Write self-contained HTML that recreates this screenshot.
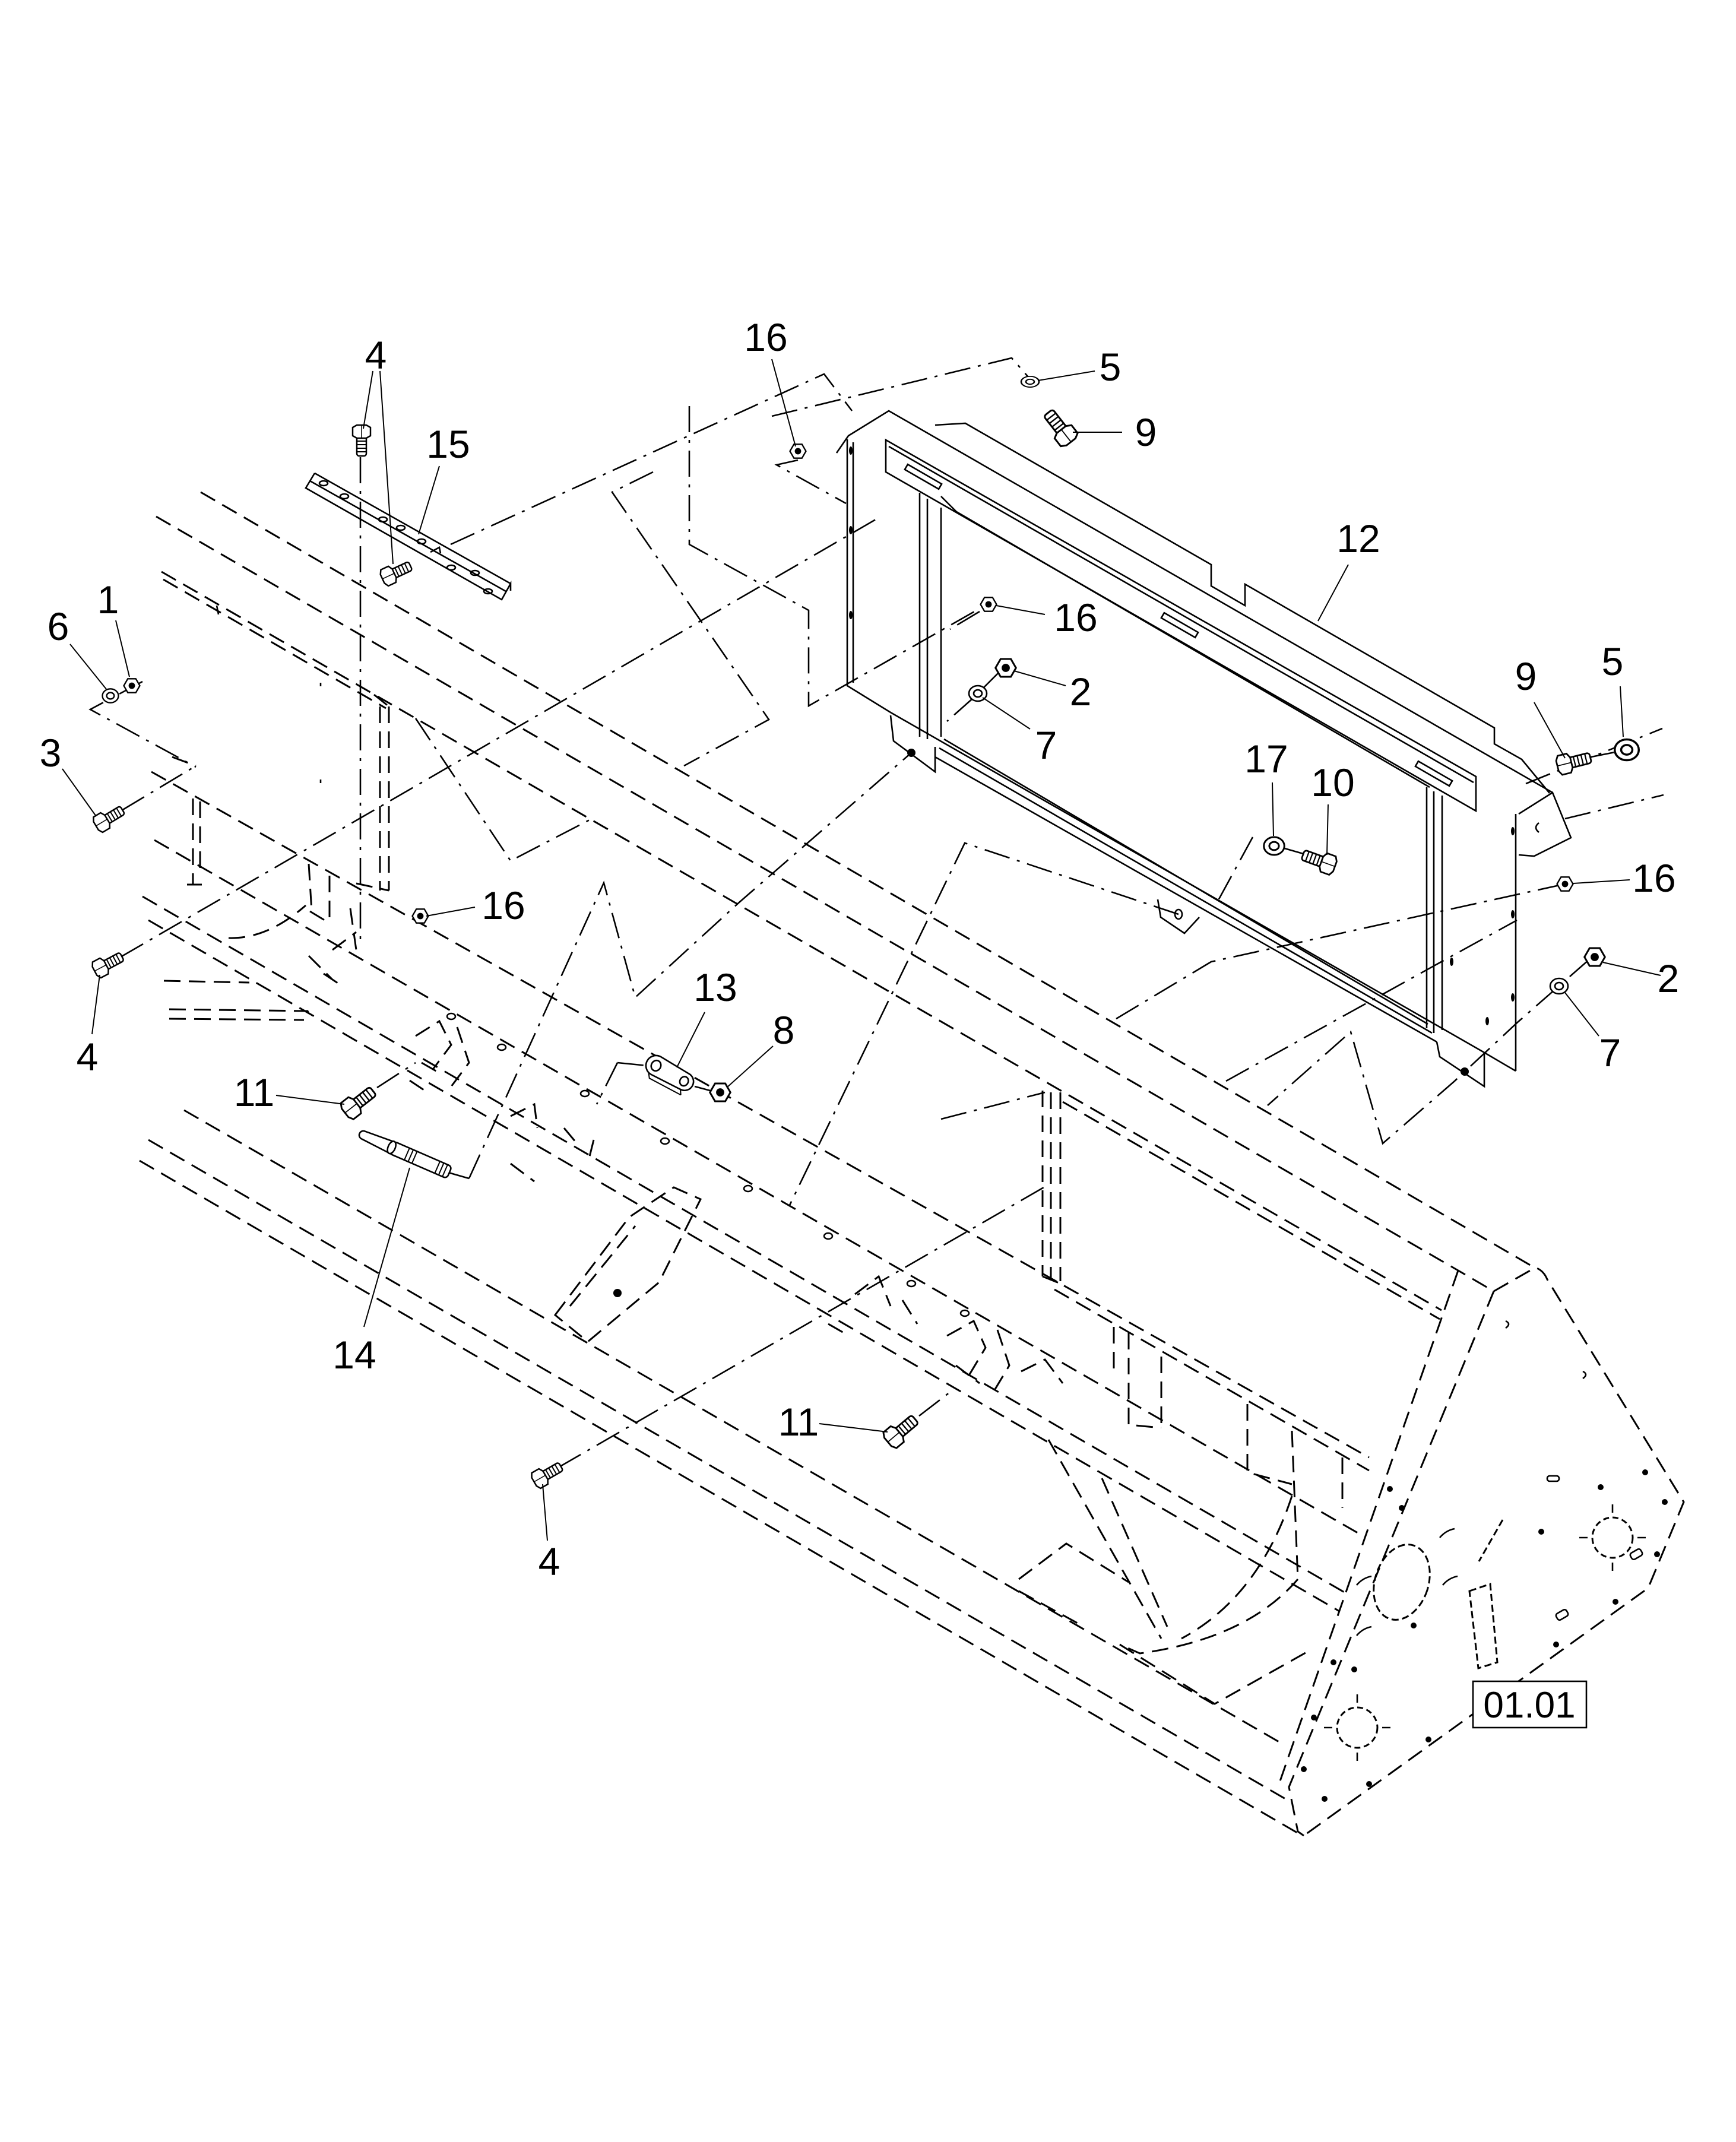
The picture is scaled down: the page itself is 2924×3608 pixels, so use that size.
<!DOCTYPE html>
<html><head><meta charset="utf-8"><style>
html,body{margin:0;padding:0;background:#fff;}
svg{display:block;}
.d{fill:none;stroke:#000;stroke-width:3;stroke-dasharray:28 14;}
.dd{fill:none;stroke:#000;stroke-width:2.6;stroke-dasharray:44 13 5 13;}
.s{fill:none;stroke:#000;stroke-width:2.6;}
.l{fill:none;stroke:#000;stroke-width:2;}
text{font-family:"Liberation Sans",Arial,sans-serif;font-size:66px;fill:#000;text-anchor:middle;}
</style></head><body>
<svg width="2924" height="3608" viewBox="0 0 2924 3608" xmlns="http://www.w3.org/2000/svg">
<defs>
<g id="nut"><polygon points="15,0 7.5,13 -7.5,13 -15,0 -7.5,-13 7.5,-13" fill="#fff" stroke="#000" stroke-width="2.6"/><circle r="6" fill="#000"/></g>
<g id="wsh"><ellipse rx="15" ry="13" fill="#fff" stroke="#000" stroke-width="2.6"/><ellipse rx="7" ry="6" fill="none" stroke="#000" stroke-width="2.6"/></g>
<g id="bolt"><rect x="4" y="-8" width="36" height="16" rx="4" fill="#fff" stroke="#000" stroke-width="2.5"/><path d="M15,-8v16M21,-8v16M27,-8v16M33,-8v16" stroke="#000" stroke-width="2"/><polygon points="-8,-15 6,-15 10,-8 10,8 6,15 -8,15 -12,8 -12,-8" fill="#fff" stroke="#000" stroke-width="2.5"/><path d="M-12,0H10" stroke="#000" stroke-width="1.5"/></g>
</defs>
<rect width="2924" height="3608" fill="#fff"/>

<!-- main frame dashed -->
<path class="d" d="M338,829 L2586,2136"/>
<path class="d" d="M263,870 L2456,2140 L2516,2175"/>
<path class="d" d="M272,963 L2428,2207"/>
<path class="d" d="M275,976 L650,1193"/>
<path class="d" d="M1790,1856 L2425,2222"/>
<path class="d" d="M255,1300 L2306,2455"/>
<path class="d" d="M1776,2172 L2306,2477"/>
<path class="d" d="M260,1415 L2299,2589"/>
<path class="d" d="M240,1510 L2266,2683"/>
<path class="d" d="M250,1550 L2256,2714"/>
<path class="d" d="M310,1870 L2156,2935"/>
<path class="d" d="M250,1920 L2165,3030"/>
<path class="d" d="M235,1955 L2190,3090"/>
<path class="d" d="M276,1652 L420,1655"/>
<path class="d" d="M285,1700 L518,1703 L526,1719 M285,1716 L512,1718"/>

<!-- left brackets -->
<path class="d" d="M325,1345 L325,1490 M337,1350 L337,1470 M290,1275 L330,1290 M315,1490 L340,1490"/>
<path class="d" d="M520,1455 L525,1535 M555,1475 L555,1555 M522,1535 L555,1555"/>
<path class="d" d="M385,1580 Q450,1582 515,1525"/>
<path class="d" d="M640,1190 L640,1500 M655,1190 L655,1500 M630,1170 L655,1190 M600,1488 L655,1500"/>
<path class="d" d="M590,1530 L600,1600 M560,1600 L600,1570 M545,1640 L575,1660 M520,1610 L560,1650"/>
<path class="s" d="M365,1020 L368,1035 M540,1150 l0,6 M540,1313 l0,6" />

<!-- hinge row details -->
<path class="d" d="M700,1745 L740,1720 L760,1760 L730,1800 M770,1730 L790,1790 L760,1830 M710,1790 L745,1810 M690,1820 L720,1840"/>
<path class="d" d="M860,1880 L900,1860 L905,1900 M950,1900 L975,1930 M1000,1920 L990,1960 M860,1960 L900,1990"/>
<path class="d" d="M1595,2250 L1640,2225 L1660,2270 L1630,2320 M1680,2240 L1700,2300 L1670,2350 M1610,2300 L1650,2330 M1720,2310 L1760,2290 L1790,2330"/>
<path class="d" d="M1440,2180 L1480,2150 L1500,2200 M1520,2190 L1545,2230 M1395,2230 L1430,2250"/>
<path class="d" d="M935,2215 L1060,2050 L1135,2000 L1180,2020 L1150,2080 L1110,2160 L990,2260 Z M960,2200 L1070,2065"/>
<circle cx="1040" cy="2178" r="7" fill="#000"/>
<g fill="none" stroke="#000" stroke-width="2.5">
<ellipse cx="760" cy="1712" rx="7" ry="5"/><ellipse cx="845" cy="1764" rx="7" ry="5"/><ellipse cx="985" cy="1842" rx="7" ry="5"/><ellipse cx="1120" cy="1922" rx="7" ry="5"/><ellipse cx="1260" cy="2002" rx="7" ry="5"/><ellipse cx="1395" cy="2082" rx="7" ry="5"/><ellipse cx="1535" cy="2162" rx="7" ry="5"/><ellipse cx="1625" cy="2212" rx="7" ry="5"/>
</g>

<!-- hopper -->
<path class="d" d="M1756,1837 L1756,2150 M1770,1840 L1770,2152 M1786,1840 L1786,2158 M1756,2150 L1786,2162"/>
<path class="d" d="M1876,2235 L1876,2310 M1901,2245 L1901,2400 L1956,2405 M1956,2285 L1956,2405 M2101,2365 L2101,2480 L2176,2500 M2176,2410 L2186,2660 M2261,2455 L2261,2540"/>
<path class="d" d="M1766,2425 L1956,2760 M1856,2490 L1966,2740"/>
<path class="d" d="M2186,2660 Q2100,2760 1920,2785 L1886,2770"/>
<path class="d" d="M2176,2520 Q2120,2690 1990,2760"/>
<path class="d" d="M1716,2660 L1796,2600 L1901,2665 M1716,2680 L1826,2740"/>
<path class="d" d="M1886,2770 L2046,2870 L2206,2780"/>
<!-- end cap -->
<path class="d" d="M2456,2140 L2156,3000"/>
<path class="d" d="M2516,2175 L2171,3010 L2186,3085 L2196,3092"/>
<path class="d" d="M2516,2175 L2586,2135 Q2600,2140 2606,2155 L2836,2530 L2776,2675 L2196,3092"/>
<ellipse class="d" cx="2361" cy="2665" rx="45" ry="65" transform="rotate(18 2361 2665)" style="stroke-dasharray:12 6"/>
<circle class="d" cx="2716" cy="2590" r="34" style="stroke-dasharray:10 6"/>
<circle class="d" cx="2286" cy="2910" r="34" style="stroke-dasharray:10 6"/>
<path class="s" d="M2716,2548 v-14 M2716,2632 v14 M2674,2590 h-14 M2758,2590 h14 M2286,2868 v-14 M2286,2952 v14 M2244,2910 h-14 M2328,2910 h14"/>
<path class="d" d="M2475,2680 L2510,2668 L2522,2800 L2490,2810 Z" style="stroke-dasharray:12 6"/>
<path class="d" d="M2531,2560 L2491,2630" style="stroke-dasharray:12 6"/>
<g fill="#000">
<circle cx="2771" cy="2480" r="5"/><circle cx="2696" cy="2505" r="5"/><circle cx="2804" cy="2530" r="5"/><circle cx="2596" cy="2580" r="5"/><circle cx="2791" cy="2618" r="5"/><circle cx="2721" cy="2698" r="5"/><circle cx="2621" cy="2770" r="5"/><circle cx="2381" cy="2738" r="5"/><circle cx="2246" cy="2800" r="5"/><circle cx="2281" cy="2812" r="5"/><circle cx="2213" cy="2893" r="5"/><circle cx="2406" cy="2930" r="5"/><circle cx="2196" cy="2980" r="5"/><circle cx="2231" cy="3030" r="5"/><circle cx="2306" cy="3005" r="5"/><circle cx="2341" cy="2508" r="5"/><circle cx="2361" cy="2540" r="5"/>
</g>
<g class="s">
<rect x="2606" y="2486" width="20" height="9" rx="4"/><rect x="2621" y="2714" width="20" height="12" rx="4" transform="rotate(-30 2631 2720)"/><rect x="2746" y="2612" width="20" height="12" rx="4" transform="rotate(-30 2756 2618)"/>
<path d="M2425,2590 q10,-12 25,-15 M2430,2670 q10,-12 25,-15 M2285,2670 q10,-12 25,-15 M2285,2755 q10,-12 25,-15 M2536,2225 q10,5 0,12 M2666,2310 q10,5 0,12"/>
</g>

<!-- dash-dot axes -->
<path class="dd" d="M607,770 L607,1590"/>
<path class="dd" d="M240,1148 L152,1195 L330,1292"/>
<path class="dd" d="M205,1365 L330,1290"/>
<path class="dd" d="M203,1612 L1475,875"/>
<path class="dd" d="M759,917 L1388,630 L1435,692"/>
<path class="dd" d="M1300,701 L1704,603 L1745,650"/>
<path class="dd" d="M1161,684 L1161,917 L1362,1028 L1362,1189 L1650,1025"/>
<path class="dd" d="M1100,795 L1031,829 L1295,1212 L1152,1290"/>
<path class="dd" d="M1344,775 L1308,783 L1425,848"/>
<path class="dd" d="M700,1210 L860,1450 L995,1380"/>
<path class="dd" d="M790,1985 L1017,1487 L1070,1680 L1245,1520 L1535,1268"/>
<path class="dd" d="M755,1975 L790,1985"/>
<path class="dd" d="M1985,1540 L1625,1420 L1330,2030"/>
<path class="dd" d="M1040,1790 L1090,1795 M1170,1830 L1200,1838 M1040,1790 L1005,1860"/>
<path class="dd" d="M635,1832 L700,1790 M1548,2385 L1600,2345"/>
<path class="dd" d="M940,2472 L1765,1996"/>
<path class="dd" d="M1585,1885 L1760,1840"/>
<path class="dd" d="M1880,1716 L2040,1620 L2636,1489"/>
<path class="dd" d="M2065,1821 L2415,1627 L2555,1550"/>
<path class="dd" d="M2677,1616 L2556,1722 L2450,1821 L2329,1926 L2275,1738 L2135,1862"/>
<path class="dd" d="M2110,1410 L2050,1520 M2160,1428 L2195,1438"/>
<path class="dd" d="M1650,1030 L1600,1060 M1640,1175 L1595,1215 M1683,1132 L1655,1160"/>
<path class="dd" d="M2570,1320 L2800,1227 M2636,1379 L2802,1339 M2675,1276 L2725,1266"/>

<!-- panel 12 -->
<path class="s" d="M1409,763 L1429,734 L1497,692 L2615,1335"/>
<path class="s" d="M1427,740 L1427,1155 L1500,1200 M1437,745 L1437,1150"/>
<path class="s" d="M1492,741 L2486,1308 L2486,1366 L1492,795 Z M1497,752 L2482,1318"/>
<path class="s" d="M1575,716 L1626,713 L2040,951 L2040,987 L2097,1020 L2097,984 L2517,1226 L2517,1253 L2563,1279 L2610,1336"/>
<path class="s" d="M1611,862 L2408,1326 M1585,836 L1611,862"/>
<path class="s" d="M1549,830 L1549,1241 M1562,840 L1562,1245 M1585,855 L1585,1241"/>
<path class="s" d="M2403,1326 L2403,1732 M2415,1333 L2415,1740 M2429,1340 L2429,1735"/>
<path class="s" d="M2553,1371 L2553,1804 M2558,1371 L2615,1335 L2646,1411 L2584,1442 L2558,1440"/>
<path class="s" d="M1500,1200 L2495,1770 L2553,1804"/>
<path class="s" d="M1590,1245 L2405,1725 M1575,1275 L2420,1755 M1582,1260 L2412,1740"/>
<path class="s" d="M1500,1205 L1505,1248 L1575,1300 L1575,1258 M2420,1755 L2425,1780 L2500,1830 L2500,1775 M1950,1515 L1955,1545 L1995,1572 L2020,1545"/>
<circle cx="1535" cy="1268" r="7" fill="#000"/><circle cx="2467" cy="1805" r="7" fill="#000"/>
<ellipse class="s" cx="1985" cy="1540" rx="6" ry="8"/>
<path class="s" d="M2592,1386 q-10,8 0,16"/>
<g class="s">
<rect x="1522" y="798" width="66" height="10" transform="rotate(30 1555 803)"/>
<rect x="1954" y="1048" width="66" height="10" transform="rotate(30 1987 1053)"/>
<rect x="2382" y="1298" width="66" height="10" transform="rotate(30 2415 1303)"/>
</g>
<g fill="#000">
<ellipse cx="1433" cy="759" rx="3" ry="7"/><ellipse cx="1433" cy="893" rx="3" ry="7"/><ellipse cx="1433" cy="1036" rx="3" ry="7"/>
<ellipse cx="2548" cy="1400" rx="3" ry="7"/><ellipse cx="2548" cy="1540" rx="3" ry="7"/><ellipse cx="2548" cy="1680" rx="3" ry="7"/><ellipse cx="2445" cy="1620" rx="3" ry="7"/><ellipse cx="2505" cy="1720" rx="3" ry="7"/>
</g>

<!-- bracket 15 -->
<path class="s" d="M530,797 L515,822 L845,1010 L860,983 L860,995 M530,797 L860,983 M522,810 L852,996" fill="#fff"/>
<g class="s">
<ellipse cx="545" cy="814" rx="7" ry="4"/><ellipse cx="580" cy="836" rx="7" ry="4"/><ellipse cx="645" cy="875" rx="7" ry="4"/><ellipse cx="675" cy="889" rx="7" ry="4"/><ellipse cx="710" cy="912" rx="7" ry="4"/><ellipse cx="760" cy="956" rx="7" ry="4"/><ellipse cx="800" cy="965" rx="7" ry="4"/><ellipse cx="822" cy="996" rx="7" ry="4"/>
</g>
<path class="s" d="M725,930 L740,922 L742,932"/>

<!-- hardware -->
<use href="#bolt" transform="translate(609,728) rotate(90)"/>
<use href="#bolt" transform="translate(655,970) rotate(-25)"/>
<use href="#bolt" transform="translate(172,1385) rotate(-31)"/>
<use href="#bolt" transform="translate(170,1630) rotate(-28)"/>
<use href="#bolt" transform="translate(592,1866) rotate(-38) scale(1.15)"/>
<use href="#bolt" transform="translate(1506,2420) rotate(-40) scale(1.15)"/>
<use href="#bolt" transform="translate(910,2490) rotate(-30)"/>
<use href="#bolt" transform="translate(1795,733) rotate(-128) scale(1.2)"/>
<use href="#bolt" transform="translate(2636,1287) rotate(-14) scale(1.1)"/>
<use href="#bolt" transform="translate(2236,1455) rotate(200) scale(1.1)"/>

<use href="#nut" transform="translate(1344,760) scale(0.9)"/>
<use href="#nut" transform="translate(708,1543) scale(0.9)"/>
<use href="#nut" transform="translate(1665,1018) scale(0.9)"/>
<use href="#nut" transform="translate(2636,1489) scale(0.9)"/>
<use href="#nut" transform="translate(1694,1125) scale(1.15)"/>
<use href="#nut" transform="translate(2686,1612) scale(1.15)"/>
<use href="#nut" transform="translate(222,1155) scale(0.9)"/>
<use href="#nut" transform="translate(1213,1840) scale(1.15)"/>

<use href="#wsh" transform="translate(186,1172) scale(0.9)"/>
<use href="#wsh" transform="translate(1647,1168)"/>
<use href="#wsh" transform="translate(2626,1661)"/>
<use href="#wsh" transform="translate(1735,643) scale(1,0.7)"/>
<use href="#wsh" transform="translate(2740,1263) scale(1.35)"/>
<use href="#wsh" transform="translate(2146,1425) scale(1.15)"/>

<!-- link 13 -->
<g transform="translate(1105,1795) rotate(28)">
<path d="M0,-17 L55,-14 A15,15 0 0 1 55,16 L0,17 A17,17 0 0 1 0,-17 Z" fill="#fff" stroke="#000" stroke-width="2.6"/>
<ellipse cx="0" cy="0" rx="8" ry="9" fill="none" stroke="#000" stroke-width="2.6"/>
<ellipse cx="54" cy="1" rx="7" ry="8" fill="none" stroke="#000" stroke-width="2.6"/>
<path d="M55,16 L60,24 M-5,17 L0,24 L60,24" fill="none" stroke="#000" stroke-width="2"/>
</g>
<!-- pin 14 -->
<g transform="translate(612,1912) rotate(23.5)">
<path d="M0,-7 L62,-11 L62,11 L0,7 A7,7 0 0 1 0,-7 Z" fill="#fff" stroke="#000" stroke-width="2.6"/>
<rect x="52" y="-11" width="106" height="22" rx="6" fill="#fff" stroke="#000" stroke-width="2.6"/>
<ellipse cx="52" cy="0" rx="6" ry="11" fill="#fff" stroke="#000" stroke-width="2.6"/>
<path d="M80,-11v22M87,-11v22M94,-11v22M136,-11v22M143,-11v22M150,-11v22" stroke="#000" stroke-width="2"/>
</g>

<!-- leader lines -->
<path class="l" d="M1300,605 L1340,752 M628,625 L612,722 M640,625 L662,950 M740,785 L705,900 M195,1045 L218,1140 M118,1085 L180,1162 M105,1295 L162,1375 M155,1742 L168,1642 M800,1528 L718,1543 M1187,1705 L1140,1798 M1302,1762 L1224,1832 M465,1845 L580,1860 M690,1967 L613,2235 M914,2500 L922,2595 M1380,2398 L1495,2412 M1760,1035 L1678,1020 M1795,1155 L1708,1130 M1735,1228 L1655,1175 M2143,1318 L2145,1408 M2237,1355 L2235,1440 M2271,951 L2220,1046 M1844,625 L1748,641 M1890,728 L1807,728 M2584,1183 L2636,1277 M2729,1156 L2734,1241 M2745,1482 L2650,1488 M2797,1643 L2700,1621 M2693,1745 L2636,1672"/>

<!-- labels -->
<text x="1290" y="591">16</text>
<text x="633" y="621">4</text>
<text x="755" y="771">15</text>
<text x="182" y="1033">1</text>
<text x="98" y="1078">6</text>
<text x="85" y="1291">3</text>
<text x="147" y="1803">4</text>
<text x="848" y="1548">16</text>
<text x="1205" y="1686">13</text>
<text x="1320" y="1758">8</text>
<text x="428" y="1863">11</text>
<text x="597" y="2305">14</text>
<text x="925" y="2653">4</text>
<text x="1345" y="2418">11</text>
<text x="1870" y="641">5</text>
<text x="1930" y="751">9</text>
<text x="2288" y="930">12</text>
<text x="1812" y="1063">16</text>
<text x="1820" y="1188">2</text>
<text x="1762" y="1278">7</text>
<text x="2133" y="1301">17</text>
<text x="2245" y="1341">10</text>
<text x="2570" y="1162">9</text>
<text x="2716" y="1137">5</text>
<text x="2786" y="1502">16</text>
<text x="2810" y="1671">2</text>
<text x="2712" y="1796">7</text>

<rect x="2481" y="2832" width="191" height="78" fill="#fff" stroke="#000" stroke-width="2.6"/>
<text x="2576" y="2893" style="font-size:62px">01.01</text>
</svg>
</body></html>
